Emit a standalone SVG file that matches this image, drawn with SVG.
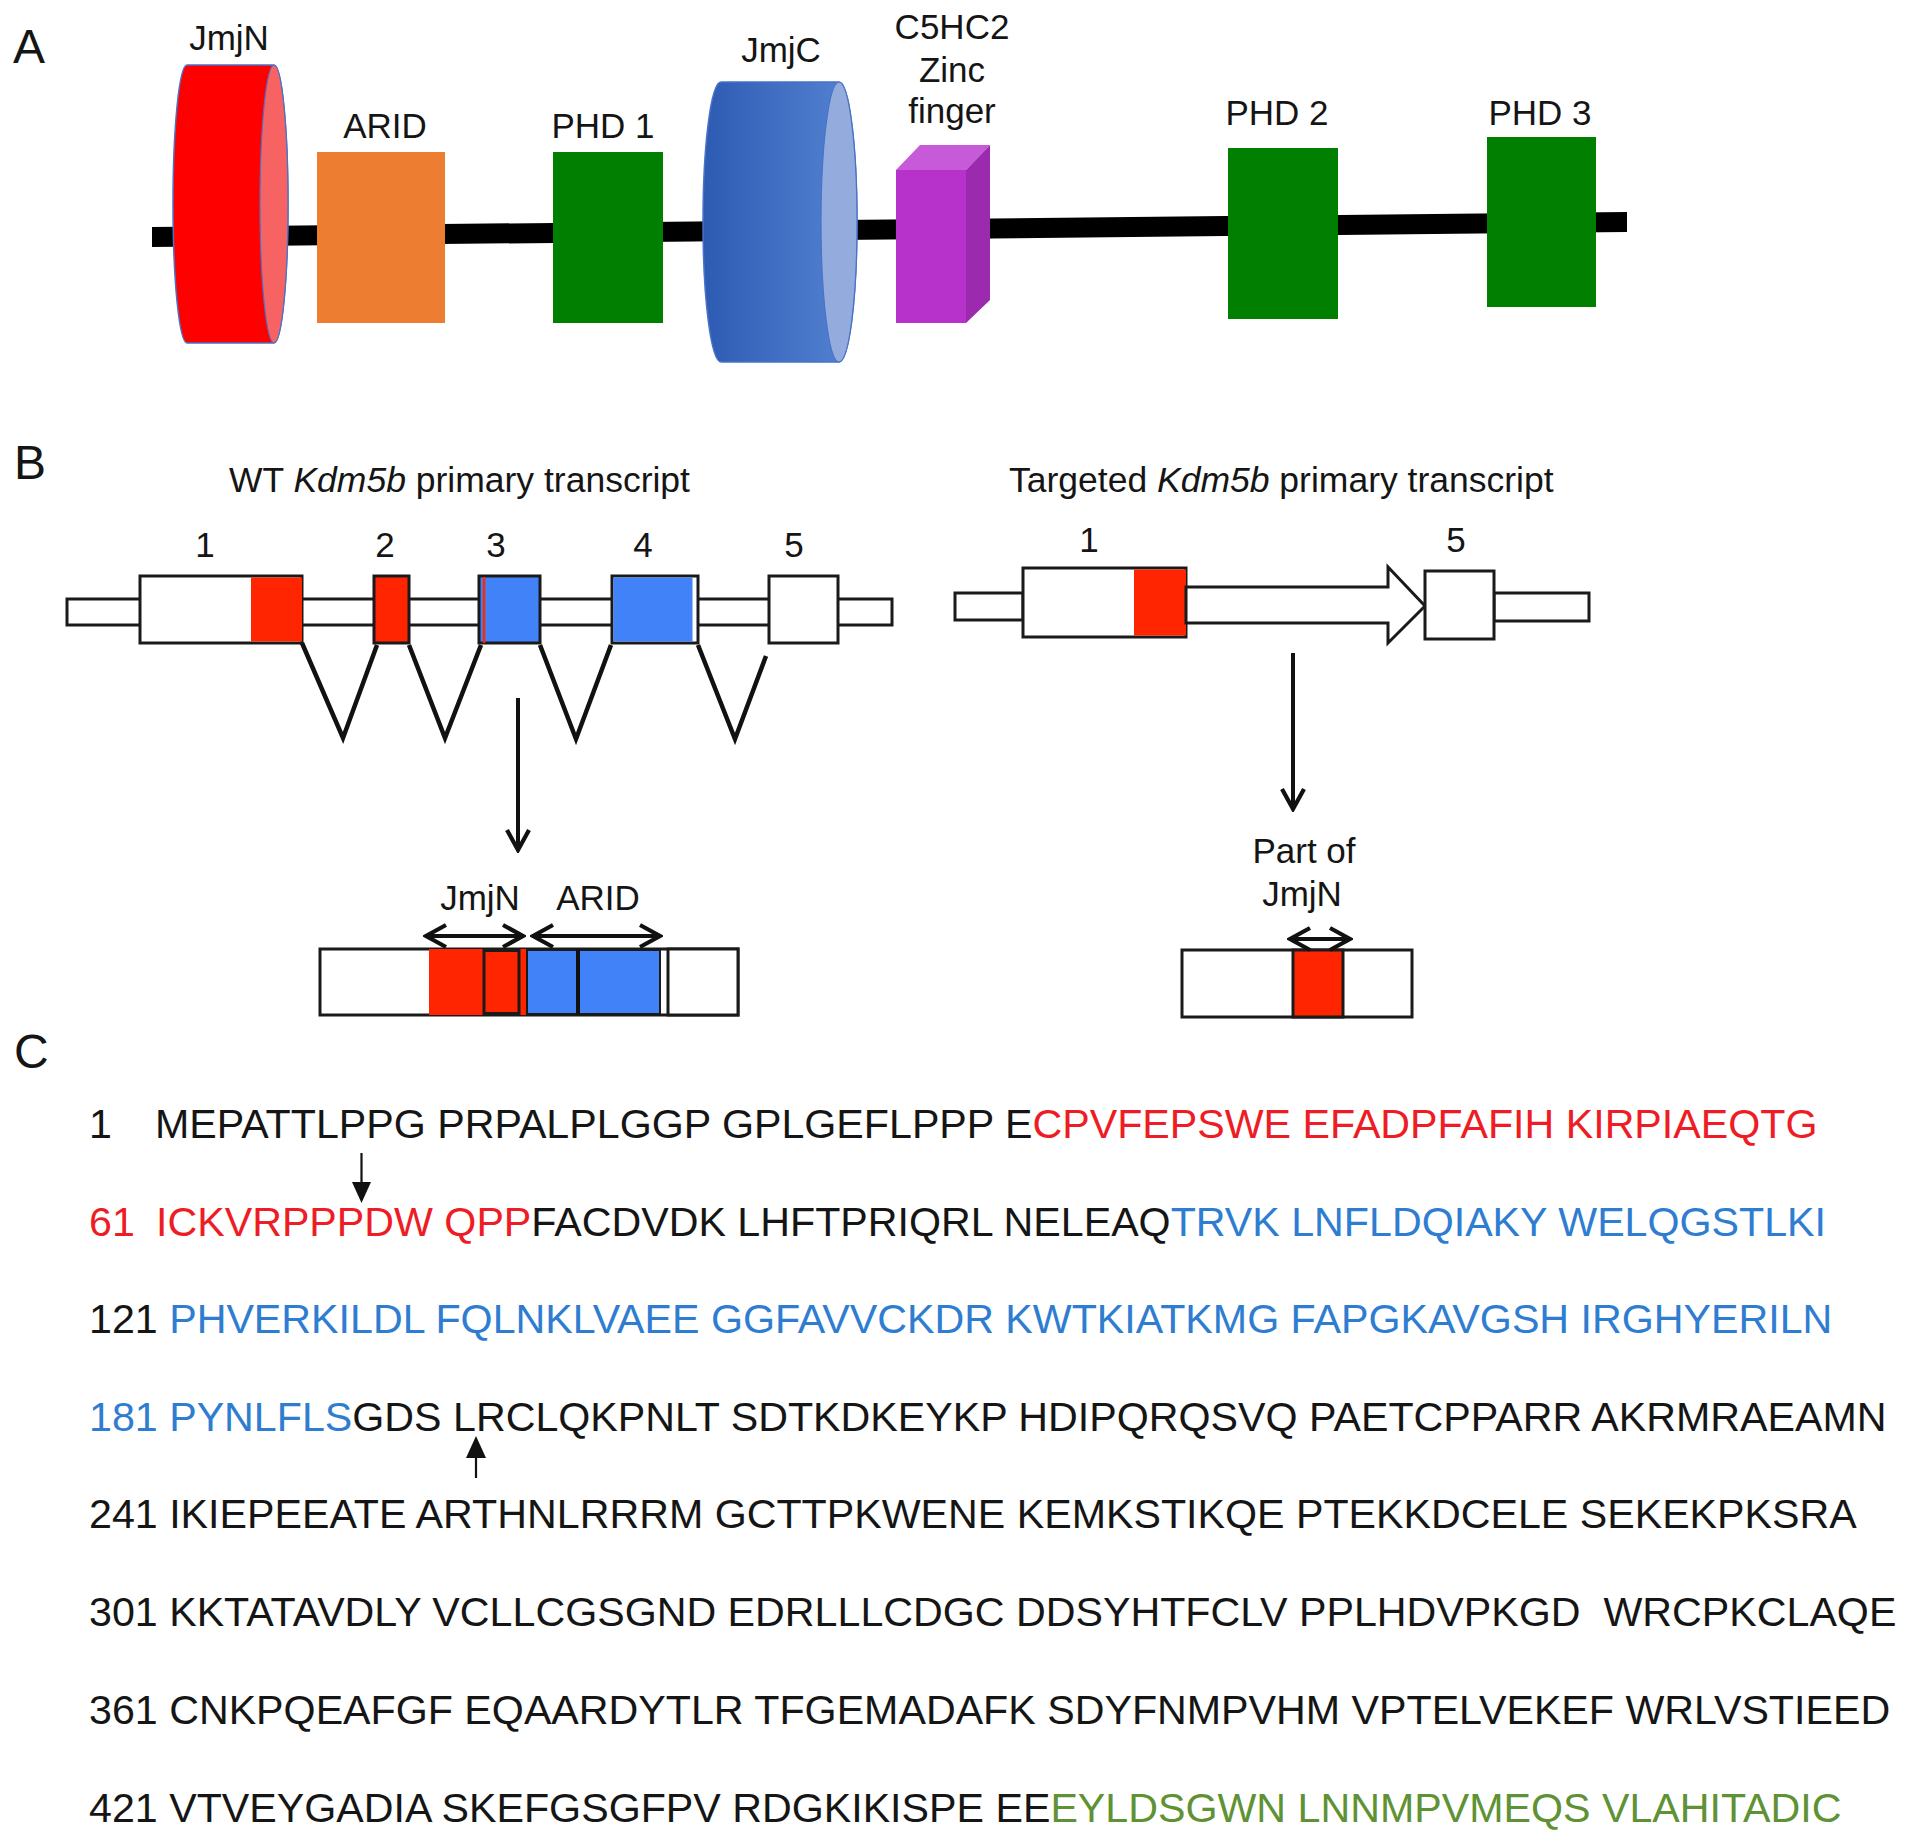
<svg xmlns="http://www.w3.org/2000/svg" width="1913" height="1839" viewBox="0 0 1913 1839">
<defs>
<style>
text{font-family:"Liberation Sans",Arial,Helvetica,sans-serif;fill:#151515}
.pl{font-size:48px}
.lab{font-size:35px;text-anchor:middle}
.ttl{font-size:35.5px}
.seq{font-size:41.2px}
.r{fill:#EE1C24}
.b{fill:#2E7DD1}
.g{fill:#5E9234}
.bx{stroke:#1a1a1a;stroke-width:3}
.wh{fill:#fff}
.exr{fill:#FF2500}
.exb{fill:#4282F8}
.grn{fill:#007F00}
.spl{fill:none;stroke:#111;stroke-width:4.5;stroke-linejoin:miter}
.arr{fill:none;stroke:#111;stroke-width:4}
.thin{fill:none;stroke:#111;stroke-width:2.2}
.tri{fill:#111}
</style>
<linearGradient id="jmjc" x1="0" y1="0" x2="1" y2="0">
<stop offset="0" stop-color="#2D5BB3"/>
<stop offset="1" stop-color="#5584D3"/>
</linearGradient>
<marker id="chev" viewBox="0 0 26 28" refX="23" refY="14" markerWidth="26" markerHeight="28" markerUnits="userSpaceOnUse" orient="auto-start-reverse">
<path d="M3,3 L23,14 L3,25" fill="none" stroke="#111" stroke-width="4.2"/>
</marker>
</defs>
<rect width="1913" height="1839" fill="#fff"/>

<!-- Panel labels -->
<text class="pl" x="13" y="63">A</text>
<text class="pl" x="14" y="479">B</text>
<text class="pl" x="14" y="1068">C</text>

<!-- Panel A -->
<g id="backbone">
<polygon points="152,227 1627,212 1627,232 152,247" fill="#000"/>
</g>
<g id="jmjn-domain">
<path d="M187,65 L274,65 A14,139 0 0 1 274,343 L187,343 A14,139 0 0 1 187,65 Z" fill="#FF0000" stroke="#4A72C8" stroke-width="1.5"/>
<ellipse cx="274" cy="204" rx="14" ry="139" fill="#F76363" stroke="#4A72C8" stroke-width="1.2"/>
<text class="lab" x="229" y="50">JmjN</text>
</g>
<g id="arid-domain">
<rect x="317" y="152" width="128" height="171" fill="#ED7D31"/>
<text class="lab" x="385" y="138">ARID</text>
</g>
<g id="phd1-domain">
<rect x="553" y="152" width="110" height="171" class="grn"/>
<text class="lab" x="603" y="138">PHD 1</text>
</g>
<g id="jmjc-domain">
<path d="M721,82 L839,82 A18,140 0 0 1 839,362 L721,362 A18,140 0 0 1 721,82 Z" fill="url(#jmjc)" stroke="#4A72C8" stroke-width="1.5"/>
<ellipse cx="839" cy="222" rx="18" ry="140" fill="#93ACDD" stroke="#4A72C8" stroke-width="1.2"/>
<text class="lab" x="781" y="62">JmjC</text>
</g>
<g id="zinc-finger-domain">
<polygon points="896,170 920,145 990,145 966,170" fill="#C75AD9"/>
<polygon points="966,170 990,145 990,300 966,323" fill="#9C2AAF"/>
<rect x="896" y="170" width="70" height="153" fill="#B632CB"/>
<text class="lab" x="952" y="39">C5HC2</text>
<text class="lab" x="952" y="82">Zinc</text>
<text class="lab" x="952" y="123">finger</text>
</g>
<g id="phd2-domain">
<rect x="1228" y="148" width="110" height="171" class="grn"/>
<text class="lab" x="1277" y="125">PHD 2</text>
</g>
<g id="phd3-domain">
<rect x="1487" y="137" width="109" height="170" class="grn"/>
<text class="lab" x="1540" y="125">PHD 3</text>
</g>

<!-- Panel B: WT transcript -->
<g id="wt-transcript">
<text class="ttl" x="229" y="492">WT <tspan font-style="italic">Kdm5b</tspan> primary transcript</text>
<rect x="67" y="599" width="825" height="26" class="wh bx"/>
<g id="wt-exon1">
<rect x="140" y="576" width="162" height="67" class="wh bx"/>
<rect x="251" y="577.5" width="51" height="64" class="exr"/>
<text class="lab" x="205" y="557">1</text>
</g>
<g id="wt-exon2">
<rect x="374" y="576" width="35" height="67" class="exr bx" stroke-width="2"/>
<text class="lab" x="385" y="557">2</text>
</g>
<g id="wt-exon3">
<rect x="479" y="576" width="61" height="67" class="exb bx" stroke-width="2.5"/>
<line x1="484" y1="577" x2="484" y2="643" stroke="#FF2500" stroke-width="2.5"/>
<text class="lab" x="496" y="557">3</text>
</g>
<g id="wt-exon4">
<rect x="612" y="576" width="86" height="67" class="wh bx" stroke-width="2.5"/>
<rect x="613.5" y="577.5" width="79" height="64" class="exb"/>
<text class="lab" x="643" y="557">4</text>
</g>
<g id="wt-exon5">
<rect x="769" y="576" width="69" height="67" class="wh bx"/>
<text class="lab" x="794" y="557">5</text>
</g>
</g>

<!-- Panel B: targeted transcript -->
<g id="targeted-transcript">
<text class="ttl" x="1009" y="492">Targeted <tspan font-style="italic">Kdm5b</tspan> primary transcript</text>
<rect x="955" y="593" width="68" height="27" class="wh bx"/>
<rect x="1494" y="593" width="95" height="28" class="wh bx"/>
<g id="tg-exon1">
<rect x="1023" y="568" width="163" height="69" class="wh bx"/>
<rect x="1134" y="569.5" width="52" height="66" class="exr"/>
<text class="lab" x="1089" y="552">1</text>
</g>
<g id="tg-deletion-arrow">
<polygon points="1186,587 1388,587 1388,567 1425,606 1388,643 1388,623 1186,623" class="wh bx"/>
</g>
<g id="tg-exon5">
<rect x="1425" y="571" width="69" height="68" class="wh bx"/>
<text class="lab" x="1456" y="552">5</text>
</g>
</g>

<!-- Panel B: products -->
<g id="wt-product">
<rect x="320" y="949" width="418" height="66" class="wh bx"/>
<rect x="429" y="949" width="98" height="66" class="exr"/>
<rect x="484" y="950.5" width="35" height="63" class="exr bx" stroke-width="2.5"/>
<rect x="527" y="950" width="133" height="64" class="exb" stroke="#1a1a1a" stroke-width="2"/>
<line x1="578" y1="949" x2="578" y2="1015" stroke="#111" stroke-width="4"/>
<rect x="668" y="949" width="70" height="66" class="wh bx"/>
<text class="lab" x="480" y="910">JmjN</text>
<text class="lab" x="598" y="910">ARID</text>
</g>
<g id="targeted-product">
<rect x="1182" y="950" width="230" height="67" class="wh bx"/>
<rect x="1293" y="950" width="50" height="67" class="exr bx" stroke-width="2.5"/>
<text class="lab" x="1304" y="863">Part of</text>
<text class="lab" x="1302" y="906">JmjN</text>
</g>

<!-- Connectors -->
<g id="connectors">
<polyline class="spl" points="302,643 343,738 377,645"/>
<polyline class="spl" points="409,645 445,738 481,645"/>
<polyline class="spl" points="540,645 576,739 611,645"/>
<polyline class="spl" points="698,645 735,739 766,656"/>
<line class="arr" x1="518" y1="698" x2="518" y2="850" marker-end="url(#chev)"/>
<line class="arr" x1="1293" y1="653" x2="1293" y2="809" marker-end="url(#chev)"/>
<line class="arr" x1="426" y1="936" x2="523" y2="936" marker-start="url(#chev)" marker-end="url(#chev)"/>
<line class="arr" x1="533" y1="936" x2="660" y2="936" marker-start="url(#chev)" marker-end="url(#chev)"/>
<line class="arr" x1="1290" y1="939" x2="1350" y2="939" marker-start="url(#chev)" marker-end="url(#chev)"/>
<line class="thin" x1="361.5" y1="1153" x2="361.5" y2="1186"/>
<polygon class="tri" points="352,1182 371,1182 361.5,1203"/>
<line class="thin" x1="476" y1="1478" x2="476" y2="1452"/>
<polygon class="tri" points="466,1458 486,1458 476,1436"/>
</g>

<!-- Panel C: sequence -->
<g id="sequence">
<text class="seq" x="89" y="1138">1</text>
<text class="seq" x="155" y="1138">MEPATTLPPG PRPALPLGGP GPLGEFLPPP E<tspan class="r">CPVFEPSWE EFADPFAFIH KIRPIAEQTG</tspan></text>
<text class="seq r" x="89" y="1236">61</text>
<text class="seq" x="156" y="1236"><tspan class="r">ICKVRPPPDW QPP</tspan>FACDVDK LHFTPRIQRL NELEAQ<tspan class="b">TRVK LNFLDQIAKY WELQGSTLKI</tspan></text>
<text class="seq" x="89" y="1333">121 <tspan class="b">PHVERKILDL FQLNKLVAEE GGFAVVCKDR KWTKIATKMG FAPGKAVGSH IRGHYERILN</tspan></text>
<text class="seq" x="89" y="1431"><tspan class="b">181 PYNLFLS</tspan>GDS LRCLQKPNLT SDTKDKEYKP HDIPQRQSVQ PAETCPPARR AKRMRAEAMN</text>
<text class="seq" x="89" y="1528">241 IKIEPEEATE ARTHNLRRRM GCTTPKWENE KEMKSTIKQE PTEKKDCELE SEKEKPKSRA</text>
<text class="seq" x="89" y="1626">301 KKTATAVDLY VCLLCGSGND EDRLLLCDGC DDSYHTFCLV PPLHDVPKGD&#160; WRCPKCLAQE</text>
<text class="seq" x="89" y="1724">361 CNKPQEAFGF EQAARDYTLR TFGEMADAFK SDYFNMPVHM VPTELVEKEF WRLVSTIEED</text>
<text class="seq" x="89" y="1822">421 VTVEYGADIA SKEFGSGFPV RDGKIKISPE EE<tspan class="g">EYLDSGWN LNNMPVMEQS VLAHITADIC</tspan></text>
</g>
</svg>
